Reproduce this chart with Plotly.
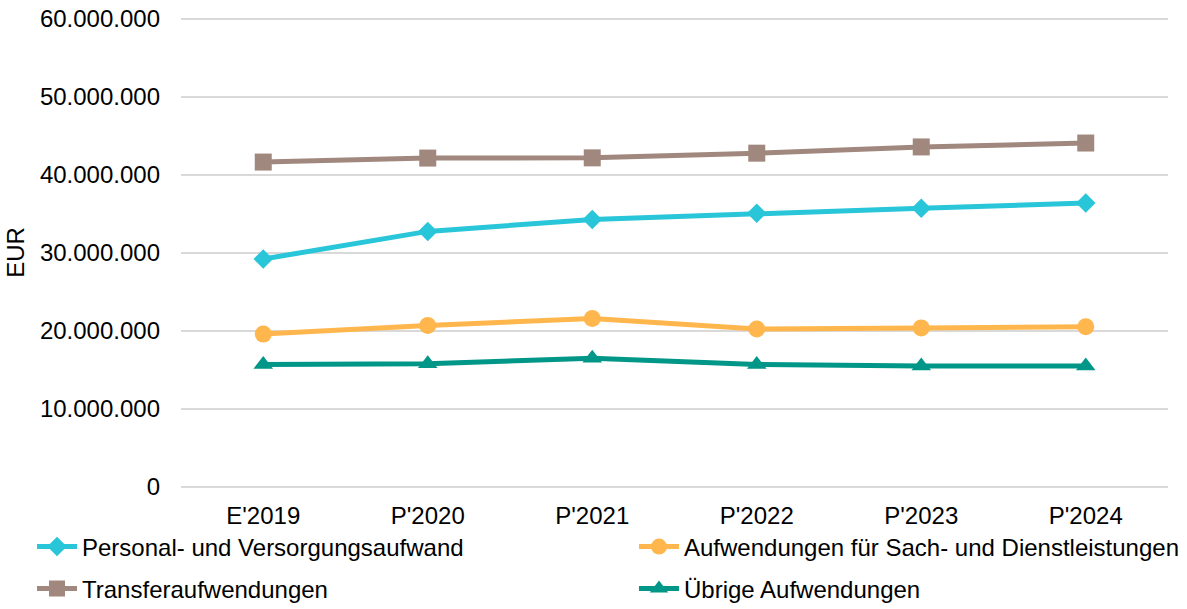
import plotly.graph_objects as go

categories = ["E'2019", "P'2020", "P'2021", "P'2022", "P'2023", "P'2024"]
personal = [29230000, 32770000, 34300000, 35100000, 35750000, 36400000]
sach = [19600000, 20700000, 21600000, 20260000, 20400000, 20550000]
transfer = [41660000, 42170000, 42200000, 42800000, 43600000, 44100000]
uebrige = [15700000, 15800000, 16500000, 15700000, 15500000, 15500000]

names = ["Personal- und Versorgungsaufwand", "Aufwendungen für Sach- und Dienstleistungen",
         "Transferaufwendungen", "Übrige Aufwendungen"]
colors = ["#29C5D8", "#FFB74D", "#A1887F", "#009688"]
symbols = ["diamond", "circle", "square", "triangle-up"]
sizes = [15, 17, 17, 17]
legends = ["legend", "legend2", "legend3", "legend4"]
series = [personal, sach, transfer, uebrige]

FONT = "Liberation Sans, Arial, sans-serif"
FS = 24

fig = go.Figure()
for nm, vals, c, s, sz, lg in zip(names, series, colors, symbols, sizes, legends):
    fig.add_trace(go.Scatter(
        x=categories, y=vals, name=nm, mode="lines+markers",
        line=dict(color=c, width=5),
        marker=dict(symbol=s, size=sz, color=c),
        legend=lg,
    ))

W, H = 1187, 609
# plot area in pixels
PL, PR, PT, PB = 181, 1168, 18, 487

def fy(px):
    return (H - px) / H

def fx(px):
    return px / W

def leg(xpx, ypx):
    return dict(
        x=fx(xpx), y=fy(ypx), orientation="h", xanchor="left", yanchor="middle",
        font=dict(family=FONT, size=FS, color="#000000"),
        itemwidth=40, bgcolor="rgba(0,0,0,0)",
    )

fig.update_layout(
    width=W, height=H,
    margin=dict(l=0, r=0, t=0, b=0, autoexpand=False),
    plot_bgcolor="white", paper_bgcolor="white",
    separators=",.",
    font=dict(family=FONT, size=FS, color="#000000"),
    showlegend=True,
    legend=leg(32, 547),
    legend2=leg(634, 547),
    legend3=leg(32, 589),
    legend4=leg(634, 589),
    xaxis=dict(
        domain=[fx(PL), fx(PR)], automargin=False,
        type="category", range=[-0.5, 5.5], showgrid=False, zeroline=False,
        showline=False, ticks="", ticklabelstandoff=12,
        tickfont=dict(family=FONT, size=FS, color="#000000"),
    ),
    yaxis=dict(
        domain=[fy(PB), fy(PT)], automargin=False,
        range=[0, 60130000], tickvals=[0, 10000000, 20000000, 30000000, 40000000, 50000000, 60000000],
        tickformat=",.0f",
        showgrid=True, gridcolor="#D9D9D9", gridwidth=1.5,
        zeroline=True, zerolinecolor="#D9D9D9", zerolinewidth=1.5,
        showline=False, ticks="", ticklabelstandoff=20,
        tickfont=dict(family=FONT, size=FS, color="#000000"),
        title=dict(text="EUR", font=dict(family=FONT, size=FS, color="#000000"), standoff=8),
    ),
)

fig.write_html(
    "out.html",
    config={"displayModeBar": False},
    post_script="document.body.style.margin='0';document.body.style.overflow='hidden';",
)
